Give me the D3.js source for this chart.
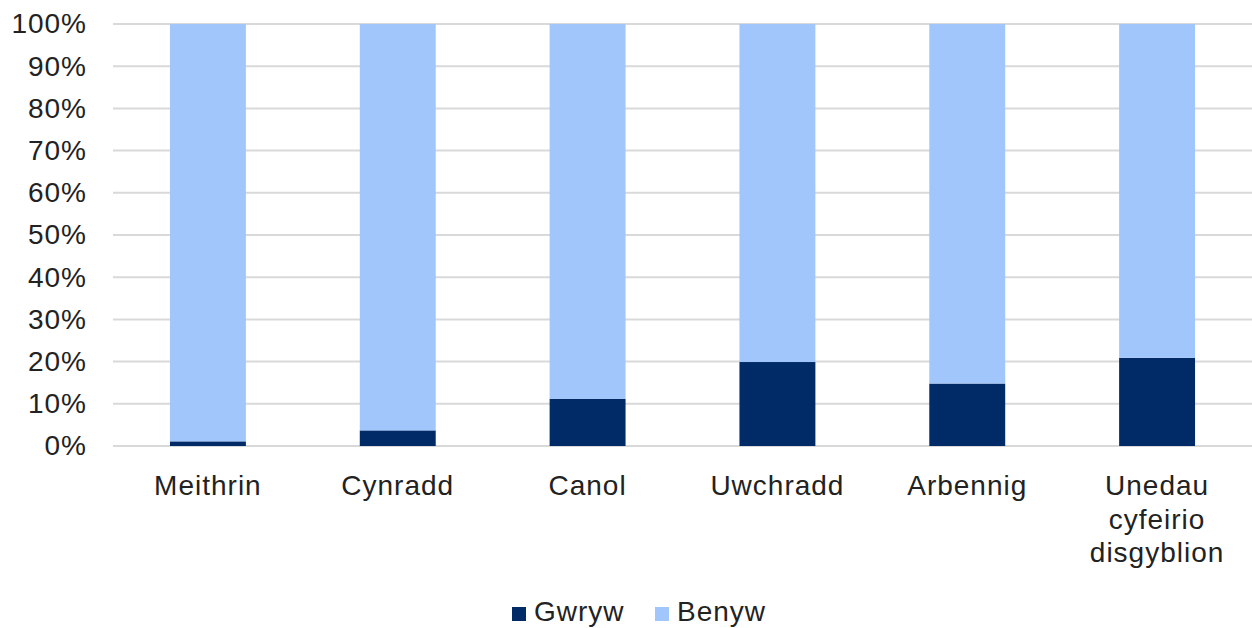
<!DOCTYPE html>
<html>
<head>
<meta charset="utf-8">
<script src="https://cdn.jsdelivr.net/npm/d3@7"></script>
<style>
  body { margin: 0; background: #fff; }
  text { font-family: "Liberation Sans", Arial, sans-serif; fill: #222; letter-spacing: 1px; }
</style>
</head>
<body>
<div id="chart"></div>
<script>
// data (percent of staff)
var categories = ["Meithrin", "Cynradd", "Canol", "Uwchradd", "Arbennig", "Unedau cyfeirio disgyblion"];
var gwryw = [1.1, 3.7, 11.2, 19.9, 14.8, 20.9];
var benyw = gwryw.map(d => 100 - d);
var yTicks = [0, 10, 20, 30, 40, 50, 60, 70, 80, 90, 100];
var seriesNames = ["Gwryw", "Benyw"];
var colors = ["#002b67", "#a1c6fc"];

var W = 1252, H = 628;
var margin = {top: 24, right: 0, bottom: 182, left: 113};
var width = W - margin.left - margin.right,
    height = H - margin.top - margin.bottom;

var svg = d3.select("#chart").append("svg")
    .attr("width", W)
    .attr("height", H)
    .append("g")
    .attr("transform", `translate(${margin.left}, ${margin.top})`);

var x = d3.scaleBand()
    .domain(categories)
    .range([0, width])
    .paddingInner(0.6)
    .paddingOuter(0.3);

var y = d3.scaleLinear()
    .domain([0, 100])
    .range([height, 0]);

// gridlines
svg.append("g")
    .selectAll("line")
    .data(yTicks)
    .enter()
    .append("line")
    .attr("x1", 0)
    .attr("x2", width)
    .attr("y1", d => y(d))
    .attr("y2", d => y(d))
    .attr("stroke", "#d9d9d9")
    .attr("stroke-width", 2);

// y axis labels
var yAxis = svg.append("g")
    .call(d3.axisLeft(y).tickValues(yTicks).tickSize(0).tickPadding(26).tickFormat(d => d + "%"));
yAxis.select(".domain").remove();
yAxis.selectAll("text")
    .style("font-size", "28px")
    .attr("fill", "#222");

// stacked bars
var rows = categories.map((c, i) => ({cat: c, Gwryw: gwryw[i], Benyw: benyw[i]}));
var stack = d3.stack().keys(seriesNames)(rows);

svg.append("g")
    .selectAll("g")
    .data(stack)
    .enter()
    .append("g")
    .attr("fill", (d, i) => colors[i])
    .selectAll("rect")
    .data(d => d)
    .enter()
    .append("rect")
    .attr("x", d => x(d.data.cat))
    .attr("y", d => y(d[1]))
    .attr("width", x.bandwidth())
    .attr("height", d => y(d[0]) - y(d[1]));

// x labels, wrapped
var xl = svg.append("g")
    .selectAll("text")
    .data(categories)
    .enter()
    .append("text")
    .attr("x", d => x(d) + x.bandwidth() / 2)
    .attr("y", height + 49)
    .style("text-anchor", "middle")
    .style("font-size", "28px");
xl.each(function(d) {
    var words = d.split(" ");
    var t = d3.select(this);
    words.forEach((w, i) => {
        t.append("tspan")
            .attr("x", x(d) + x.bandwidth() / 2)
            .attr("dy", i === 0 ? 0 : 33.5)
            .text(w);
    });
});

// legend
var legend = svg.append("g")
    .attr("transform", `translate(${512 - margin.left}, ${621 - margin.top})`);
seriesNames.forEach((s, i) => {
    var g = legend.append("g").attr("transform", `translate(${[0, 143][i]}, 0)`);
    g.append("rect")
        .attr("x", 0)
        .attr("y", -14)
        .attr("width", 14)
        .attr("height", 14)
        .attr("fill", colors[i]);
    g.append("text")
        .attr("x", 22)
        .attr("y", 0)
        .style("font-size", "28px")
        .text(s);
});
</script>
</body>
</html>
